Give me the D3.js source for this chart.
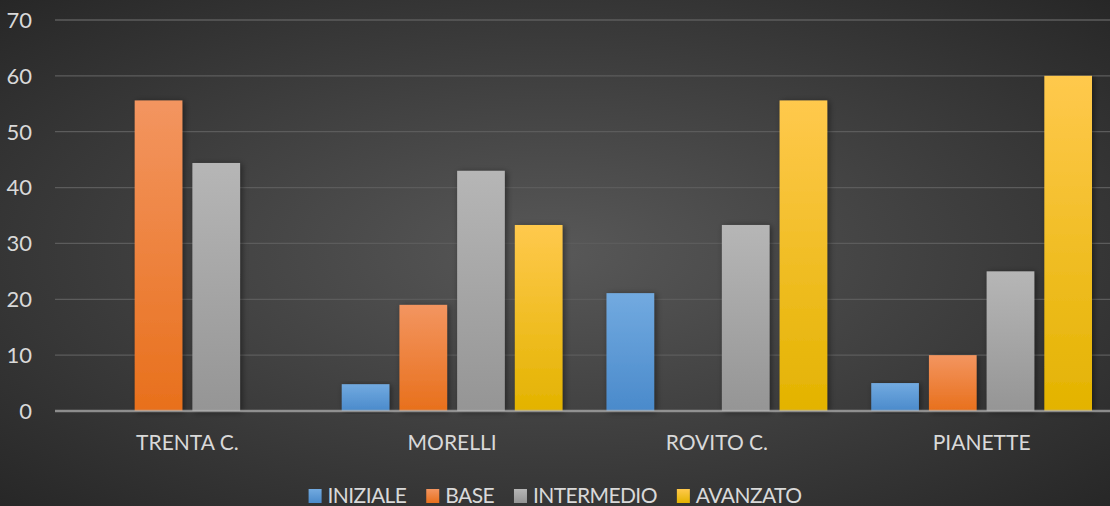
<!DOCTYPE html>
<html>
<head>
<meta charset="utf-8">
<script src="https://cdn.jsdelivr.net/npm/d3@7"></script>
<style>
  body { margin: 0; background: #333; }
  svg { display: block; }
  text { font-family: Lato, "Open Sans", sans-serif; fill: #d9d9d9; }
</style>
</head>
<body>
<script>
var categories = ["TRENTA C.", "MORELLI", "ROVITO C.", "PIANETTE"];
var seriesNames = ["INIZIALE", "BASE", "INTERMEDIO", "AVANZATO"];
var iniziale = [0, 4.8, 21.1, 5];
var base = [55.6, 19, 0, 10];
var intermedio = [44.4, 43, 33.3, 25];
var avanzato = [0, 33.3, 55.6, 60];
var yTicks = [0, 10, 20, 30, 40, 50, 60, 70];

var values = [iniziale, base, intermedio, avanzato];
var colors = [
  ["#72aae0", "#4a8acb"],
  ["#f39560", "#e8701c"],
  ["#b6b6b6", "#959595"],
  ["#ffc94d", "#e3b300"]
];

var width = 1110, height = 506;
var svg = d3.select("body").append("svg")
  .attr("width", width)
  .attr("height", height);

var defs = svg.append("defs");
var bg = defs.append("radialGradient").attr("id", "bg")
  .attr("cx", "50%").attr("cy", "50%").attr("r", "72%");
bg.append("stop").attr("offset", "0%").attr("stop-color", "#585858");
bg.append("stop").attr("offset", "100%").attr("stop-color", "#262626");

colors.forEach(function (c, i) {
  var g = defs.append("linearGradient").attr("id", "bar" + i)
    .attr("x1", 0).attr("y1", 0).attr("x2", 0).attr("y2", 1);
  g.append("stop").attr("offset", "0%").attr("stop-color", c[0]);
  g.append("stop").attr("offset", "100%").attr("stop-color", c[1]);
});

var shadow = defs.append("filter").attr("id", "shadow")
  .attr("x", "-30%").attr("y", "-10%").attr("width", "160%").attr("height", "120%");
shadow.append("feDropShadow")
  .attr("dx", 2).attr("dy", 1).attr("stdDeviation", 3)
  .attr("flood-color", "#000").attr("flood-opacity", 0.45);

svg.append("rect").attr("width", width).attr("height", height).attr("fill", "url(#bg)");

var x0 = d3.scaleBand().domain(categories).range([55, 1114]);
var x1 = d3.scaleBand().domain(seriesNames)
  .range([22, x0.bandwidth() - 22]).paddingInner(0.174);
var y = d3.scaleLinear().domain([0, 70]).range([411, 20]);

// gridlines
svg.append("g").selectAll("line")
  .data(yTicks.filter(function (d) { return d > 0; }))
  .enter().append("line")
  .attr("x1", 55).attr("x2", width)
  .attr("y1", function (d) { return y(d); })
  .attr("y2", function (d) { return y(d); })
  .attr("stroke", "#5c5c5c").attr("stroke-width", 1.3);

// y tick labels
svg.append("g").selectAll("text")
  .data(yTicks).enter().append("text")
  .attr("x", 32)
  .attr("y", function (d) { return y(d); })
  .attr("dy", "0.36em")
  .attr("text-anchor", "end")
  .style("font-size", "22px")
  .text(function (d) { return d; });

// bars
var groups = svg.append("g").selectAll("g")
  .data(categories).enter().append("g")
  .attr("transform", function (d) { return "translate(" + x0(d) + ",0)"; });

groups.selectAll("rect")
  .data(function (d, ci) {
    return seriesNames.map(function (s, si) { return { s: s, si: si, v: values[si][ci] }; });
  })
  .enter().append("rect")
  .filter(function (d) { return d.v > 0; })
  .attr("x", function (d) { return x1(d.s); })
  .attr("y", function (d) { return y(d.v); })
  .attr("width", x1.bandwidth())
  .attr("height", function (d) { return y(0) - y(d.v); })
  .attr("fill", function (d) { return "url(#bar" + d.si + ")"; })
  .attr("filter", "url(#shadow)");

// baseline
svg.append("line")
  .attr("x1", 55).attr("x2", width)
  .attr("y1", y(0)).attr("y2", y(0))
  .attr("stroke", "#b4b4b4").attr("stroke-opacity", 0.7).attr("stroke-width", 2.6);

// category labels
svg.append("g").selectAll("text")
  .data(categories).enter().append("text")
  .attr("x", function (d) { return x0(d) + x0.bandwidth() / 2; })
  .attr("y", 450)
  .attr("text-anchor", "middle")
  .style("font-size", "21px")
  .text(function (d) { return d; });

// legend
var legend = svg.append("g");
var items = legend.selectAll("g").data(seriesNames).enter().append("g");
items.append("rect").attr("width", 13).attr("height", 14).attr("y", -14)
  .attr("fill", function (d, i) { return "url(#bar" + i + ")"; });
items.append("text").attr("x", 19).attr("y", 0)
  .style("font-size", "21px")
  .style("letter-spacing", "-0.6px")
  .text(function (d) { return d; });
var gap = 20, pos = 0, offsets = [];
items.each(function () {
  offsets.push(pos);
  pos += 19 + this.querySelector("text").getComputedTextLength() + gap;
});
var total = pos - gap;
items.attr("transform", function (d, i) { return "translate(" + offsets[i] + ",0)"; });
legend.attr("transform", "translate(" + ((width - total) / 2) + ",503)");
</script>
</body>
</html>
